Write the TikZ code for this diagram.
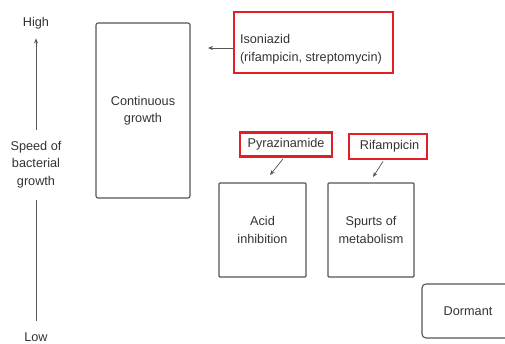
\documentclass[tikz,border=0pt]{standalone}
\usepackage{fontspec}
\setmainfont{Liberation Sans}
\usepackage{tikz}
\usetikzlibrary{arrows.meta,calc}
\definecolor{boxgray}{HTML}{555555}
\definecolor{txtgray}{HTML}{333333}
\definecolor{drugred}{HTML}{E41E26}
\tikzstyle{stage}=[draw=boxgray, line width=1.1pt, rounded corners=2pt, align=center, inner sep=0pt]
\tikzstyle{drug}=[draw=drugred, line width=2.8pt, inner sep=0pt]
\tikzstyle{ptr}=[-{Stealth[length=5pt,width=4pt]}, boxgray, line width=0.7pt]

\begin{document}
\begin{tikzpicture}[x=1pt,y=-1pt,every node/.style={text=txtgray,font=\fontsize{12.7}{17.5}\selectfont}]
\useasboundingbox (0,0) rectangle (505,343);
\clip (0,0) rectangle (505,343);

% speed axis
\node (high) at (36,23) {High};
\node (speed) at (36,164.5)[align=center, inner sep=0pt] {Speed of\\bacterial\\growth};
\node (low) at (36,337) {Low};
\draw[ptr] (speed.north) ++(0,-11) -- ($(high.south)+(0,6)$);
\draw[boxgray, line width=0.7pt] (speed.south) ++(0,12) -- ($(low.north)+(0,-8)$);

% growth states
\node (cg) at (143,110.5)[stage, minimum width=94pt, minimum height=175pt] {Continuous\\growth};
\node (acid) at (262.5,230)[stage, rounded corners=1pt, minimum width=87pt, minimum height=94pt] {Acid\\inhibition};
\node (spurt) at (371,230)[stage, rounded corners=1pt, minimum width=86pt, minimum height=94pt] {Spurts of\\metabolism};
\node (dorm) at (468,311)[stage, rounded corners=4pt, minimum width=92pt, minimum height=54pt] {Dormant};

% drugs
\node (iso) at (313.5,42.5)[drug, minimum width=159pt, minimum height=61pt] {\parbox[c][40pt][b]{147pt}{Isoniazid\\(rifampicin, streptomycin)}};
\node (pyr) at (286,144.5)[drug, minimum width=92pt, minimum height=24pt] {Pyrazinamide};
\node (rif) at (388,146.5)[drug, minimum width=78pt, minimum height=25pt] {\hspace{3pt}Rifampicin};

\coordinate (isotip) at (208,48);
\coordinate (pyrtip) at (270,175);
\coordinate (riftip) at (373,177);
\draw[ptr] (iso.west |- isotip) -- (isotip);
\draw[ptr] ($(pyr.south)+(-3,1)$) -- (pyrtip);
\draw[ptr] ($(rif.south)+(-5,1)$) -- (riftip);
\end{tikzpicture}
\end{document}
